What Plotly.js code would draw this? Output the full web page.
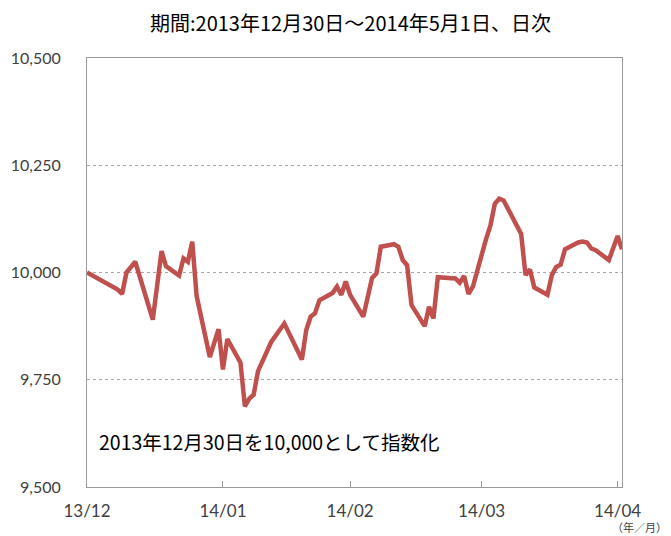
<!DOCTYPE html>
<html>
<head>
<meta charset="utf-8">
<script src="https://cdn.plot.ly/plotly-3.0.1.min.js"></script>
<style>
  html, body { margin: 0; padding: 0; background: #ffffff; }
  #chart { width: 671px; height: 536px; }
</style>
</head>
<body>
<div id="chart"></div>
<script>
// Trading dates
const dates = [
  '2013-12-30','2014-01-06','2014-01-07','2014-01-08','2014-01-10','2014-01-14','2014-01-16','2014-01-17',
  '2014-01-20','2014-01-21','2014-01-22','2014-01-23','2014-01-24','2014-01-27','2014-01-29','2014-01-30',
  '2014-01-31','2014-02-03','2014-02-04','2014-02-05','2014-02-06','2014-02-07','2014-02-10','2014-02-13',
  '2014-02-17','2014-02-18','2014-02-19','2014-02-20','2014-02-21','2014-02-24','2014-02-25','2014-02-26',
  '2014-02-27','2014-02-28','2014-03-03','2014-03-05','2014-03-06','2014-03-07','2014-03-10','2014-03-11',
  '2014-03-12','2014-03-13','2014-03-14','2014-03-17','2014-03-18','2014-03-19','2014-03-20','2014-03-24',
  '2014-03-25','2014-03-26','2014-03-27','2014-03-28','2014-03-31','2014-04-01','2014-04-02','2014-04-03',
  '2014-04-04','2014-04-07','2014-04-08','2014-04-09','2014-04-10','2014-04-11','2014-04-14','2014-04-15',
  '2014-04-16','2014-04-17','2014-04-18','2014-04-21','2014-04-22','2014-04-23','2014-04-24','2014-04-25',
  '2014-04-28','2014-04-30','2014-05-01'
];
// Index values (2013-12-30 = 10,000)
const indexValues = [
  10000, 9960, 9950, 10000, 10025, 9890, 10050, 10015,
  9993, 10033, 10025, 10072, 9945, 9803, 9868, 9774,
  9845, 9790, 9688, 9706, 9715, 9770, 9838, 9881,
  9797, 9866, 9897, 9905, 9935, 9952, 9967, 9948,
  9979, 9948, 9897, 9987, 9998, 10060, 10066, 10060,
  10029, 10017, 9924, 9875, 9920, 9893, 9989, 9986,
  9976, 9992, 9950, 9967, 10078, 10110, 10160, 10172,
  10168, 10108, 10090, 9994, 10007, 9965, 9948, 9994,
  10013, 10018, 10054, 10070, 10072, 10070, 10056, 10052,
  10029, 10085, 10054
];
// X tick positions and labels
const xTickDates = ['2013-12-30','2014-01-30','2014-02-28','2014-03-30','2014-04-30'];
const xTickLabels = ['13/12','14/01','14/02','14/03','14/04'];
// Y ticks
const yTickValues = [9500, 9750, 10000, 10250, 10500];
const yTickLabels = ['9,500','9,750','10,000','10,250','10,500'];

const titleText = '期間:2013年12月30日～2014年5月1日、日次';
const noteText = '2013年12月30日を10,000として指数化';
const unitText = '（年／月）';

const cjk = '"Noto Sans CJK JP", "Noto Sans", sans-serif';
const latin = 'Lato, "Liberation Sans", sans-serif';

const trace = {
  x: dates,
  y: indexValues,
  type: 'scatter',
  mode: 'lines',
  line: { color: '#C0504D', width: 4.5, shape: 'linear' },
  hoverinfo: 'x+y'
};

const layout = {
  width: 671,
  height: 536,
  margin: { l: 87, r: 49, t: 58, b: 49 },
  paper_bgcolor: '#ffffff',
  plot_bgcolor: '#ffffff',
  showlegend: false,
  xaxis: {
    type: 'date',
    range: ['2013-12-30', '2014-05-01'],
    tickmode: 'array',
    tickvals: xTickDates,
    ticktext: xTickLabels,
    ticks: 'inside',
    ticklen: 6,
    tickcolor: '#9a9a9a',
    tickwidth: 1,
    showgrid: false,
    zeroline: false,
    showline: true,
    linecolor: '#9a9a9a',
    linewidth: 1,
    mirror: true,
    ticklabelstandoff: 9,
    tickfont: { family: latin, size: 17, color: '#404040' }
  },
  yaxis: {
    range: [9500, 10500],
    tickmode: 'array',
    tickvals: yTickValues,
    ticktext: yTickLabels,
    ticks: '',
    showgrid: true,
    gridcolor: '#a6a6a6',
    gridwidth: 1,
    griddash: 'dot',
    zeroline: false,
    showline: true,
    linecolor: '#9a9a9a',
    linewidth: 1,
    mirror: true,
    ticklabelstandoff: 22,
    tickfont: { family: latin, size: 16, color: '#404040' }
  },
  annotations: [
    {
      text: titleText, xref: 'paper', yref: 'paper',
      x: 0.4916, y: 1.0, yshift: 36, xanchor: 'center', yanchor: 'middle',
      showarrow: false, font: { family: cjk, size: 20, color: '#000000' }
    },
    {
      text: noteText, xref: 'paper', yref: 'paper',
      x: 0.0187, y: 0.105, xanchor: 'left', yanchor: 'middle',
      showarrow: false, font: { family: cjk, size: 19.5, color: '#000000' }
    },
    {
      text: unitText, xref: 'paper', yref: 'paper',
      x: 1.0336, y: -0.0935, xanchor: 'center', yanchor: 'middle',
      showarrow: false, font: { family: cjk, size: 11, color: '#404040' }
    }
  ]
};

Plotly.newPlot('chart', [trace], layout, { displayModeBar: false, staticPlot: true });
</script>
</body>
</html>
